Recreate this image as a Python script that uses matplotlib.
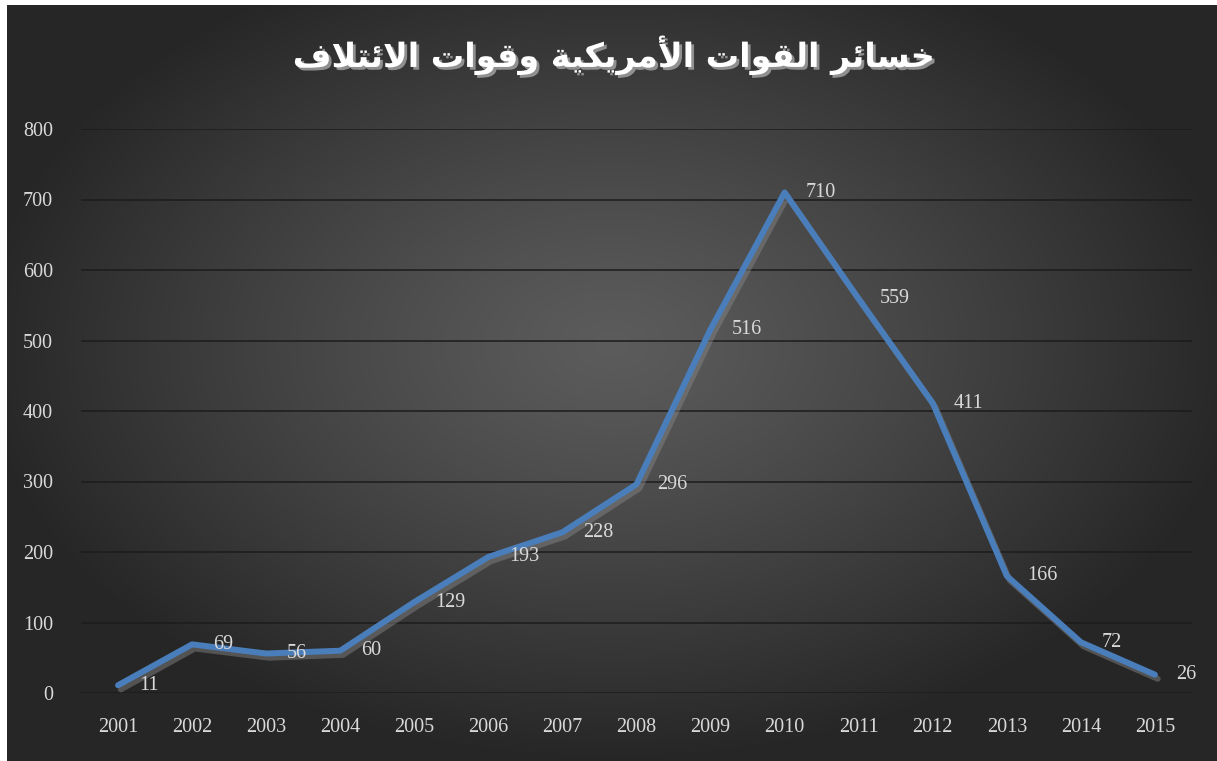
import matplotlib
matplotlib.use("Agg")
import matplotlib.pyplot as plt
import matplotlib.patheffects as pe
import numpy as np

# البيانات
years = ['2001', '2002', '2003', '2004', '2005', '2006', '2007', '2008',
         '2009', '2010', '2011', '2012', '2013', '2014', '2015']
losses = [11, 69, 56, 60, 129, 193, 228, 296, 516, 710, 559, 411, 166, 72, 26]
y_ticks = [0, 100, 200, 300, 400, 500, 600, 700, 800]
title = 'خسائر القوات الأمريكية وقوات الائتلاف'

# تشكيل بسيط للحروف العربية (matplotlib لا يقوم بذلك)
FORMS = {
    'ا': ('\uFE8D', '\uFE8E', None, None),
    'أ': ('\uFE83', '\uFE84', None, None),
    'ة': ('\uFE93', '\uFE94', None, None),
    'ر': ('\uFEAD', '\uFEAE', None, None),
    'و': ('\uFEED', '\uFEEE', None, None),
    'ت': ('\uFE95', '\uFE96', '\uFE97', '\uFE98'),
    'خ': ('\uFEA5', '\uFEA6', '\uFEA7', '\uFEA8'),
    'س': ('\uFEB1', '\uFEB2', '\uFEB3', '\uFEB4'),
    'ف': ('\uFED1', '\uFED2', '\uFED3', '\uFED4'),
    'ق': ('\uFED5', '\uFED6', '\uFED7', '\uFED8'),
    'ك': ('\uFED9', '\uFEDA', '\uFEDB', '\uFEDC'),
    'ل': ('\uFEDD', '\uFEDE', '\uFEDF', '\uFEE0'),
    'م': ('\uFEE1', '\uFEE2', '\uFEE3', '\uFEE4'),
    'ي': ('\uFEF1', '\uFEF2', '\uFEF3', '\uFEF4'),
    'ئ': ('\uFE89', '\uFE8A', '\uFE8B', '\uFE8C'),
    '\u0001': ('\uFEFB', '\uFEFC', None, None),  # لا
    '\u0002': ('\uFEF7', '\uFEF8', None, None),  # لأ
}


def shape(text):
    text = text.replace('لا', '\u0001').replace('لأ', '\u0002')
    out = []
    for i, ch in enumerate(text):
        if ch not in FORMS:
            out.append(ch)
            continue
        prev = text[i - 1] if i > 0 else ''
        nxt = text[i + 1] if i + 1 < len(text) else ''
        jp = prev in FORMS and FORMS[prev][2] is not None
        jn = nxt in FORMS and FORMS[ch][2] is not None
        iso, fin, ini, med = FORMS[ch]
        if jp and jn:
            out.append(med)
        elif jp:
            out.append(fin)
        elif jn:
            out.append(ini)
        else:
            out.append(iso)
    return ''.join(out)[::-1]


W, H = 1217, 761
fig = plt.figure(figsize=(W / 100, H / 100), dpi=100, facecolor='white')

# خلفية متدرجة
bg = fig.add_axes([7 / W, 0, 1 - 7 / W, 1 - 5 / H])
gx, gy = np.meshgrid(np.linspace(-1, 1, 600), np.linspace(-1, 1, 400))
r = np.clip(np.sqrt((gx / 1.05) ** 2 + ((gy + 0.1) / 1.1) ** 2), 0, 1)
shade = 0.36 - (0.36 - 0.15) * r ** 1.2
bg.imshow(np.dstack([shade] * 3), aspect='auto', extent=[0, 1, 0, 1])
bg.axis('off')

ax = fig.add_axes([81 / W, 1 - 693 / H, (1192 - 81) / W, (693 - 129) / H])
ax.patch.set_alpha(0)
x = np.arange(len(years))
line_color = '#4a7ebb'
ax.plot(x, losses, color=line_color, lw=4.3, solid_capstyle='round',
        solid_joinstyle='round', zorder=3,
        path_effects=[pe.SimpleLineShadow(offset=(2, -3), shadow_color='#8a8a8a', alpha=0.45),
                      pe.Normal()])

for xi, v in zip(x, losses):
    ax.annotate(str(v), (xi, v), xytext=(15, 0), textcoords='offset points',
                ha='left', va='center', color='#d9d9d9', fontsize=14.5,
                family='Liberation Serif', zorder=4)

ax.set_xlim(-0.5, len(years) - 0.5)
ax.set_ylim(0, 800)
ax.set_yticks(y_ticks)
ax.set_xticks(x)
ax.set_xticklabels(years)
ax.tick_params(length=0, colors='#d9d9d9', labelsize=14.5)
ax.tick_params(axis='y', pad=20)
ax.tick_params(axis='x', pad=18)
for lbl in ax.get_xticklabels() + ax.get_yticklabels():
    lbl.set_family('Liberation Serif')
for s in ax.spines.values():
    s.set_visible(False)
ax.grid(axis='y', color='#1c1c1c', lw=1.1)
ax.set_axisbelow(True)

fig.text(0.505, 1 - 55 / H, shape(title), ha='center', va='center',
         color='white', fontsize=24, fontweight='bold', family='DejaVu Sans',
         path_effects=[pe.SimplePatchShadow(offset=(2, -2), shadow_rgbFace='#9a9a9a', alpha=0.9),
                       pe.Normal()])

fig.savefig('out.png', dpi=100, facecolor=fig.get_facecolor())
